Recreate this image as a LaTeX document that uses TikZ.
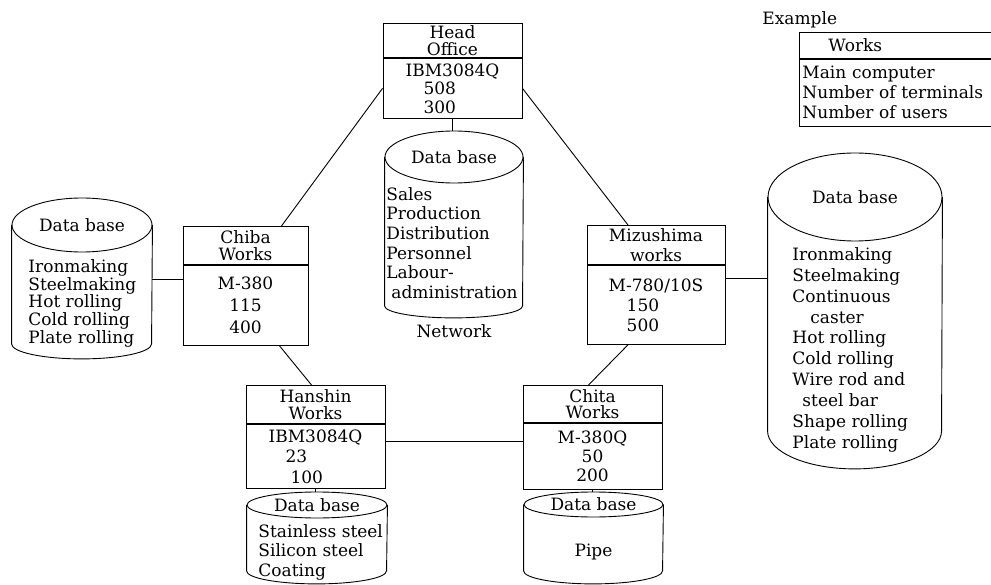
\documentclass[tikz,border=0pt]{standalone}
\usepackage{fontspec}
\setmainfont{DejaVu Serif}
\usetikzlibrary{positioning}

% cylinder round an empty node: name, x radius, top y radius, bottom y radius
\newcommand{\dbcylinder}[4]{%
  \draw ([yshift=-#3]#1.north) ellipse [x radius=#2, y radius=#3];
  \draw ([yshift=-#3]#1.north west) -- ([yshift=#4]#1.south west)
    arc [start angle=180, end angle=360, x radius=#2, y radius=#4]
    -- ([yshift=-#3]#1.north east);}

\begin{document}
\begin{tikzpicture}[x=1pt, y=-1pt, line width=0.9pt,
  font=\fontsize{17}{20}\selectfont,
  headpart/.style={draw, inner sep=0pt, align=center, anchor=north, font=\fontsize{17}{17.5}\selectfont},
  bodypart/.style={draw, inner sep=0pt, align=left},
  dbspace/.style={inner sep=0pt, anchor=north},
  dblist/.style={inner sep=0pt, anchor=north west, align=left}]
\useasboundingbox (0,0) rectangle (991,585);

% works
\node[headpart, minimum width=139pt, minimum height=34pt] (hoh) at (452.5,23) {Head\\Office};
\node[bodypart, below=0pt of hoh, minimum width=139pt, minimum height=60pt, font=\fontsize{17}{18.5}\selectfont] (hob) {IBM3084Q\\\hspace*{18pt}508\\\hspace*{18pt}300};

\node[headpart, minimum width=125pt, minimum height=38pt] (chibah) at (245.5,226) {Chiba\\Works};
\node[bodypart, below=0pt of chibah, minimum width=125pt, minimum height=80pt, align=center, font=\fontsize{17}{22}\selectfont] (chibab) {M-380\\115\\400};

\node[headpart, minimum width=138pt, minimum height=39pt, font=\fontsize{17}{20}\selectfont] (mizh) at (656,225) {Mizushima\\works};
\node[bodypart, below=0pt of mizh, minimum width=138pt, minimum height=79pt] (mizb) {M-780/10S\\\hspace*{18pt}150\\\hspace*{18pt}500};

\node[headpart, minimum width=139pt, minimum height=38pt] (hanh) at (315.5,385) {Hanshin\\Works};
\node[bodypart, below=0pt of hanh, minimum width=139pt, minimum height=64pt, font=\fontsize{17}{20.5}\selectfont] (hanb) {IBM3084Q\\\hspace*{17pt}23\\\hspace*{22pt}100};

\node[headpart, minimum width=139pt, minimum height=37pt, font=\fontsize{17}{16.5}\selectfont] (chitah) at (592.5,385) {Chita\\Works};
\node[bodypart, below=0pt of chitah, minimum width=139pt, minimum height=66pt, align=center, font=\fontsize{17}{19}\selectfont] (chitab) {M-380Q\\50\\200};

% data bases
\node[dbspace, minimum width=138pt, minimum height=186pt] (dbcent) at (454,131) {};
\dbcylinder{dbcent}{69pt}{26pt}{12pt}
\node (dbcent-t) at ([yshift=-26pt]dbcent.north) {Data base};
\node[dblist, font=\fontsize{17}{19.6}\selectfont] (dbcent-l) at (386,187) {Sales\\Production\\Distribution\\Personnel\\Labour-\\\hspace*{5pt}administration};
\node (net) at (454,331) {Network};

\node[dbspace, minimum width=140pt, minimum height=160pt] (dbleft) at (82,198) {};
\dbcylinder{dbleft}{70pt}{27pt}{15pt}
\node (dbleft-t) at ([yshift=-27pt]dbleft.north) {Data base};
\node[dblist, font=\fontsize{17}{17.8}\selectfont] (dbleft-l) at (28,259) {Ironmaking\\Steelmaking\\Hot rolling\\Cold rolling\\Plate rolling};

\node[dbspace, minimum width=174pt, minimum height=315pt] (dbright) at (855,153) {};
\dbcylinder{dbright}{87pt}{44pt}{38pt}
\node (dbright-t) at ([yshift=-44pt]dbright.north) {Data base};
\node[dblist, font=\fontsize{17}{20.9}\selectfont] (dbright-l) at (792,247) {Ironmaking\\Steelmaking\\Continuous\\\hspace*{18pt}caster\\Hot rolling\\Cold rolling\\Wire rod and\\\hspace*{10pt}steel bar\\Shape rolling\\Plate rolling};

\node[dbspace, minimum width=140pt, minimum height=91pt] (dbhan) at (317,492) {};
\dbcylinder{dbhan}{70pt}{13pt}{13pt}
\node (dbhan-t) at ([yshift=-13pt]dbhan.north) {Data base};
\node[dblist, font=\fontsize{17}{19.5}\selectfont] (dbhan-l) at (258,524) {Stainless steel\\Silicon steel\\Coating};

\node[dbspace, minimum width=139pt, minimum height=91pt] (dbchita) at (593.5,492) {};
\dbcylinder{dbchita}{69.5pt}{12.5pt}{13pt}
\node (dbchita-t) at ([yshift=-12.5pt]dbchita.north) {Data base};
\node (dbchita-l) at (593.5,552) {Pipe};

% example
\node[anchor=west, inner sep=0pt] (exlabel) at (762,20) {Example};
\node[headpart, anchor=north west, minimum width=192pt, minimum height=26pt, text width=192pt, align=left] (exh) at (799,32) {\hspace*{29pt}Works};
\node[bodypart, below=0pt of exh, minimum width=192pt, minimum height=67pt, text width=186pt, inner xsep=3pt, align=left] (exb) {Main computer\\Number of terminals\\Number of users};

% network
\draw (hob.south) -- (hob.south |- dbcent.north);
\draw (hob.west) -- ([xshift=36pt]chibah.north);
\draw (hob.east) -- ([xshift=-28pt]mizh.north);
\draw ([xshift=34pt]chibab.south) -- ([xshift=-4pt]hanh.north);
\draw ([xshift=-28pt]mizb.south) -- ([xshift=-4pt]chitah.north);
\draw ([yshift=15pt]hanb.east) coordinate (hc) -- (hc -| chitab.west);
\draw ([yshift=-15pt]chibab.north west) coordinate (cl) -- (cl -| dbleft.east);
\draw ([yshift=-14pt]mizb.north east) coordinate (mr) -- (mr -| dbright.west);
\draw (hanb.south) -- (hanb.south |- dbhan.north);
\draw (chitab.south) -- (chitab.south |- dbchita.north);
\end{tikzpicture}
\end{document}
